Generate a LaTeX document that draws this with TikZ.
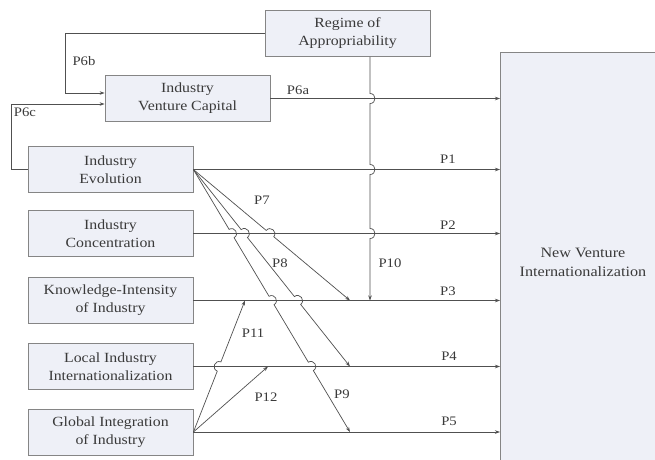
\documentclass[tikz,border=0pt]{standalone}
\usepackage{fontspec}
\setmainfont[FakeStretch=1.13]{Liberation Serif}
\usetikzlibrary{arrows.meta,calc}
\definecolor{boxfill}{HTML}{EEF0F7}
\definecolor{boxline}{HTML}{858585}
\definecolor{lnc}{HTML}{505050}
\definecolor{txt}{HTML}{3A3A3A}
\begin{document}
\begin{tikzpicture}[x=1pt,y=-1pt,
  box/.style={draw=boxline, fill=boxfill, minimum width=165pt, minimum height=46pt, inner sep=0pt, align=center, font=\fontsize{14}{18}\selectfont, text=txt, line width=0.8pt},
  conn/.style={draw=lnc, line width=0.7pt},
  arr/.style={conn, -{Stealth[length=5pt,width=3.5pt]}},
  lab/.style={font=\fontsize{13}{14}\selectfont, text=txt, inner sep=1pt},
  hop/.style={bend left=90, looseness=1.7},
  vhop/.style={out=0, in=0, looseness=1.7}]
\useasboundingbox (0,0) rectangle (655,459);
\fill[white] (0,0) rectangle (655,459);

% boxes
\node[box] (Reg) at (347.5,33.5) {Regime of\\Appropriability};
\node[box] (IVC) at (187.5,98.5) {Industry\\Venture Capital};
\node[box] (IE) at (110.5,169.5) {Industry\\Evolution};
\node[box] (IC) at (110.5,233.5) {Industry\\Concentration};
\node[box] (KI) at (110.5,300.5) {Knowledge-Intensity\\of Industry};
\node[box] (LI) at (110.5,366.5) {Local Industry\\Internationalization};
\node[box] (GI) at (110.5,432) {Global Integration\\of Industry};
\node[box, minimum width=165pt, minimum height=420pt, anchor=north west, font=\fontsize{14.3}{18.5}\selectfont] (NV) at (500,52) {New Venture\\Internationalization};

% end points on the lines
\coordinate (e7) at (350,300.5);
\coordinate (e8) at (350,366.5);
\coordinate (e9) at (350,432);
\coordinate (c10) at (370,300.5);
\coordinate (e11) at (245,300.5);
\coordinate (e12) at (268,366.5);
\coordinate (b6) at (65,93);

% horizontal arrows
\draw[arr] (IVC.east) -- (IVC.east -| NV.west);
\draw[arr] (IE.east) -- (IE.east -| NV.west);
\draw[arr] (IC.east) -- (IC.east -| NV.west);
\draw[arr] (KI.east) -- (KI.east -| NV.west);
\draw[arr] (LI.east) -- (LI.east -| NV.west);
\draw[arr] (GI.east) -- (GI.east -| NV.west);

% P6b and P6c
\draw[arr] (Reg.west) -| (b6) -- (b6 -| IVC.west);
\draw[arr] (IE.west) -- ++(-16,0) |- ($(IVC.west)+(0,5.5)$);

% P10 with hops
\draw[arr] (Reg.south -| c10) -- ($(c10 |- IVC.east)+(0,-5)$) to[vhop] ($(c10 |- IVC.east)+(0,5)$)
  -- ($(c10 |- IE.east)+(0,-5)$) to[vhop] ($(c10 |- IE.east)+(0,5)$)
  -- ($(c10 |- IC.east)+(0,-5)$) to[vhop] ($(c10 |- IC.east)+(0,5)$)
  -- (c10);

% P7, P8, P9
\draw[arr] (IE.east) -- ($(IE.east)!0.465!(e7)$) to[hop] ($(IE.east)!0.513!(e7)$) -- (e7);
\draw[arr] (IE.east) -- ($(IE.east)!0.305!(e8)$) to[hop] ($(IE.east)!0.345!(e8)$)
  -- ($(IE.east)!0.645!(e8)$) to[hop] ($(IE.east)!0.685!(e8)$) -- (e8);
\draw[arr] (IE.east) -- ($(IE.east)!0.228!(e9)$) to[hop] ($(IE.east)!0.260!(e9)$)
  -- ($(IE.east)!0.483!(e9)$) to[hop] ($(IE.east)!0.515!(e9)$)
  -- ($(IE.east)!0.734!(e9)$) to[hop] ($(IE.east)!0.766!(e9)$) -- (e9);

% P11, P12
\draw[arr] (GI.east) -- ($(GI.east)!0.463!(e11)$) to[hop] ($(GI.east)!0.533!(e11)$) -- (e11);
\draw[arr] (GI.east) -- (e12);

% labels
\node[lab] (l6b) at (84,61) {P6b};
\node[lab] (l6a) at (298,90) {P6a};
\node[lab] (l6c) at (25,112) {P6c};
\node[lab] (l1) at (448,159) {P1};
\node[lab] (l2) at (448,225) {P2};
\node[lab] (l3) at (448,291) {P3};
\node[lab] (l4) at (449,356) {P4};
\node[lab] (l5) at (449,421) {P5};
\node[lab] (l7) at (262,200) {P7};
\node[lab] (l8) at (280,263) {P8};
\node[lab] (l9) at (342,394) {P9};
\node[lab] (l10) at (390,263) {P10};
\node[lab] (l11) at (253,333) {P11};
\node[lab] (l12) at (266,397) {P12};
\end{tikzpicture}
\end{document}
